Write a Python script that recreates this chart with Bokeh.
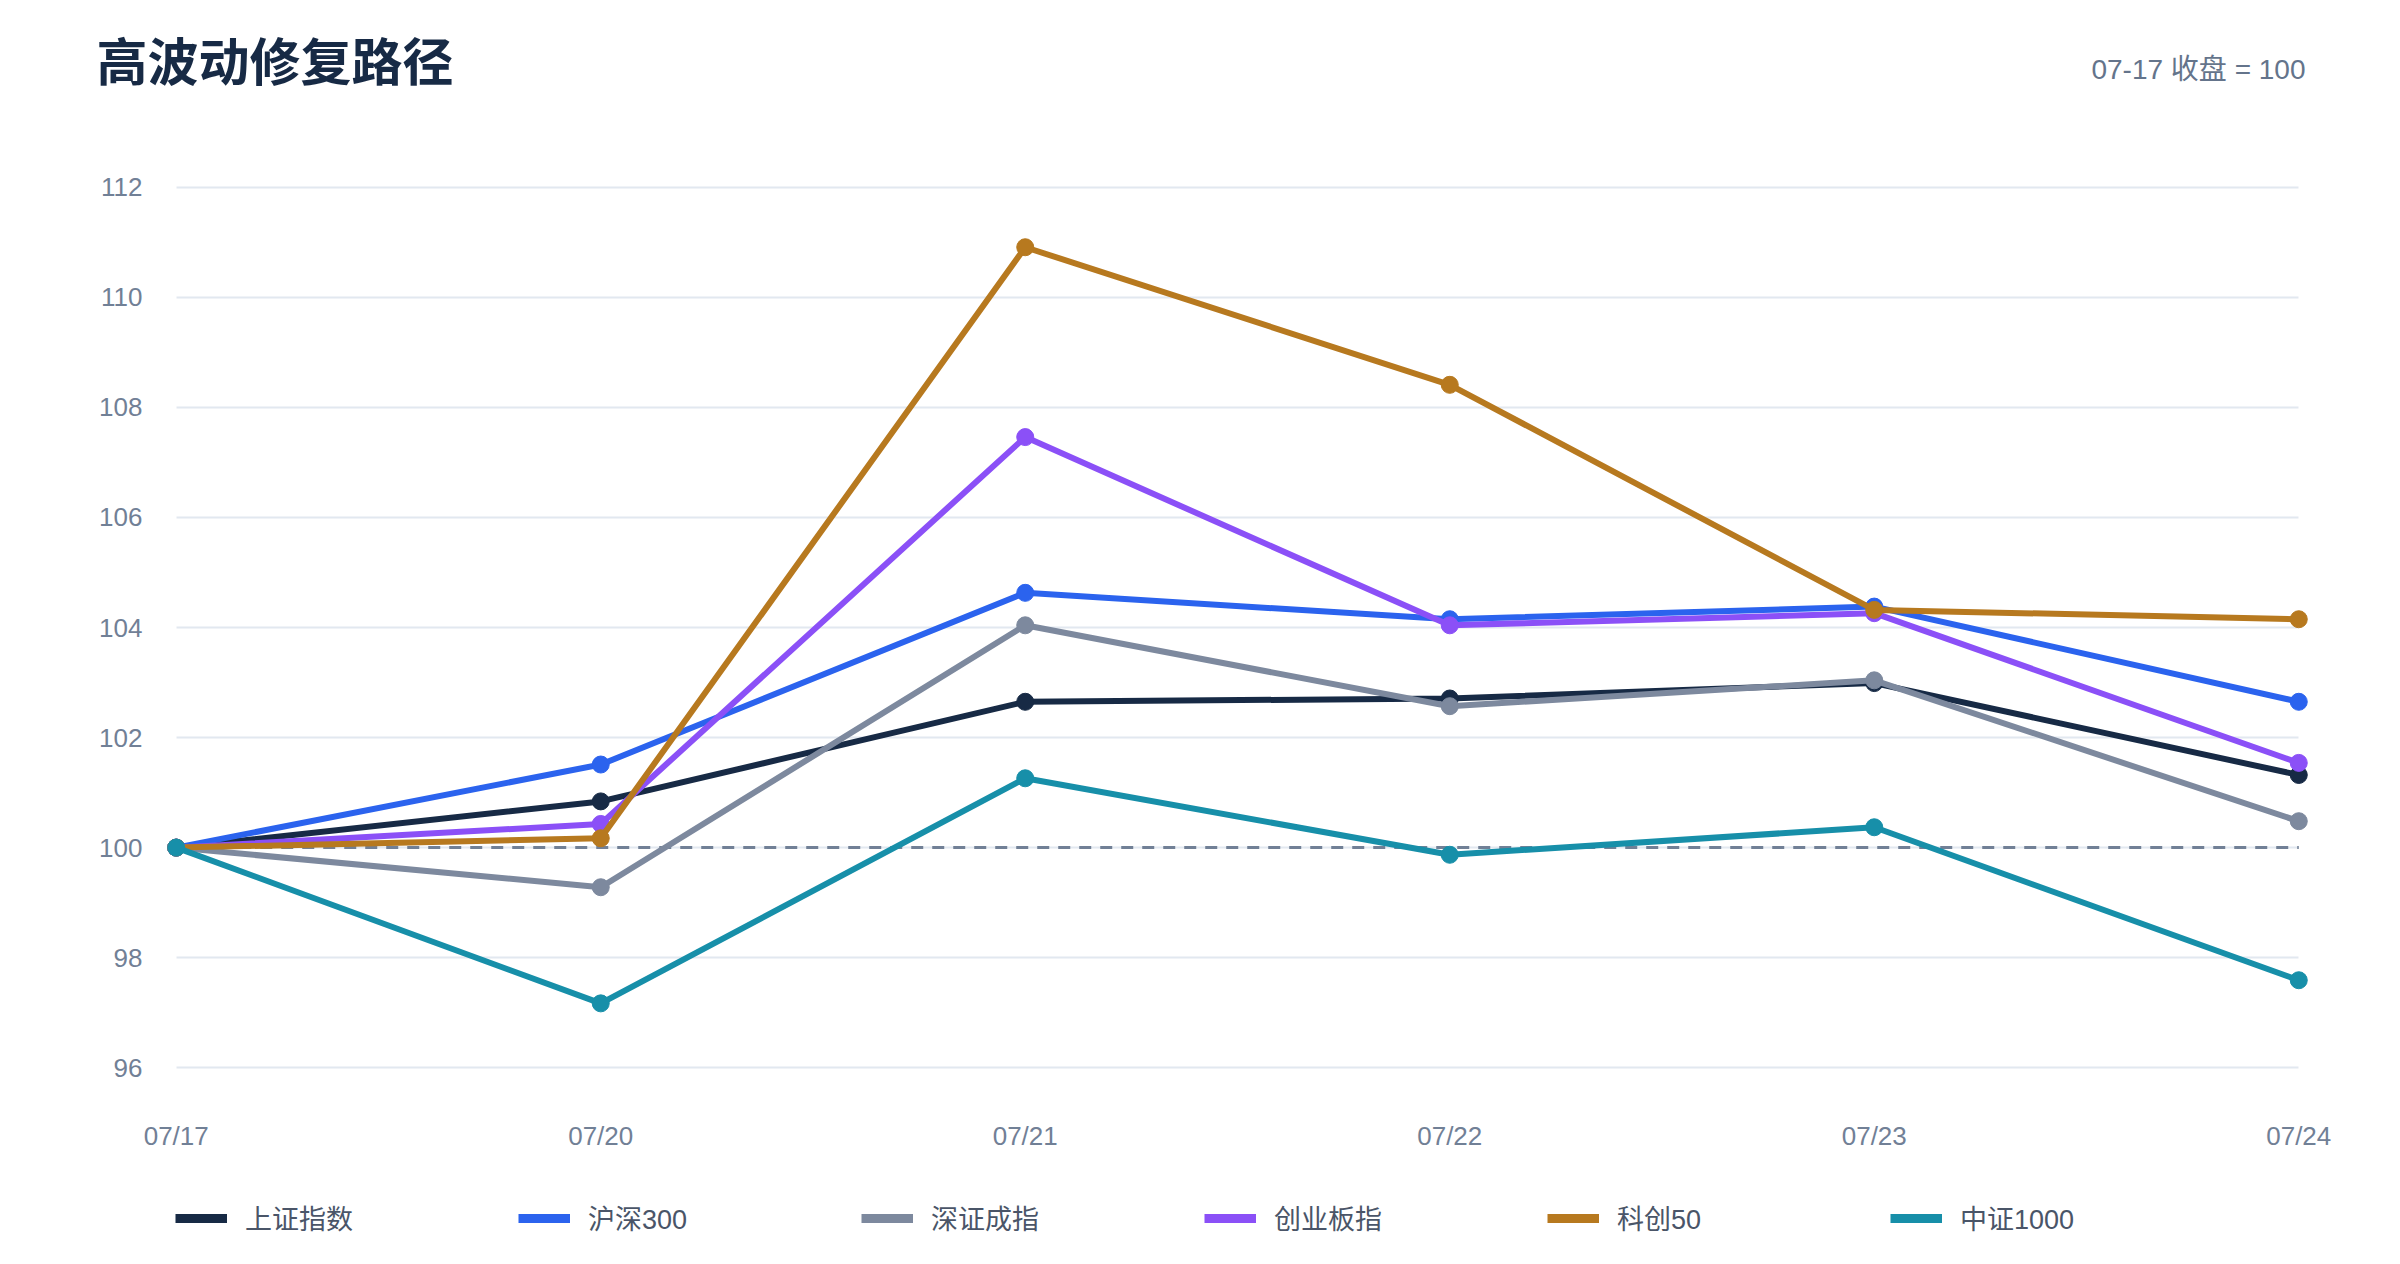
from bokeh.embed import file_html
from bokeh.layouts import column
from bokeh.models import FixedTicker, Label, Legend, LegendItem, Range1d
from bokeh.plotting import figure
from bokeh.resources import INLINE

dates = ["07/17", "07/20", "07/21", "07/22", "07/23", "07/24"]
base = 100
y_ticks = [96, 98, 100, 102, 104, 106, 108, 110, 112]

names = ["上证指数", "沪深300", "深证成指", "创业板指", "科创50", "中证1000"]
sh_comp = [100, 100.84, 102.65, 102.71, 102.99, 101.32]
hs300 = [100, 101.51, 104.63, 104.15, 104.38, 102.65]
sz_comp = [100, 99.28, 104.04, 102.57, 103.04, 100.48]
chinext = [100, 100.43, 107.46, 104.04, 104.26, 101.54]
star50 = [100, 100.17, 110.91, 108.41, 104.32, 104.15]
csi1000 = [100, 97.17, 101.26, 99.87, 100.37, 97.59]
series = [sh_comp, hs300, sz_comp, chinext, star50, csi1000]

colors = ["#172a45", "#2b63ee", "#7d899e", "#8b50f7", "#b7791f", "#178fa9"]

MIXED = "Liberation Sans, Noto Sans CJK SC"
TICK_COLOR = "#718096"
W = 2384
LEFT = 163

x = list(range(len(dates)))


def strip(h):
    f = figure(width=W, height=h, output_backend="svg", toolbar_location=None,
               x_axis_type=None, y_axis_type=None, min_border=0,
               x_range=(0, 1), y_range=(0, 1), outline_line_color=None)
    f.grid.grid_line_color = None
    return f


head = strip(110)
foot = strip(78)

# keep the strips' frames at the page edge if the layout allows it,
# otherwise they are lined up with the chart's frame
shift = LEFT
if "frame_align" in head.properties():
    head.frame_align = False
    foot.frame_align = False
    shift = 0

# header strip
head.add_layout(Label(x=96 - shift, y=52, x_units="screen", y_units="screen",
                      text="高波动修复路径", text_font="Noto Sans CJK SC",
                      text_font_size="51px", text_font_style="bold",
                      text_color="#172a45", text_baseline="middle"))
head.add_layout(Label(x=2305 - shift, y=41, x_units="screen", y_units="screen",
                      text="07-17 收盘 = 100", text_font=MIXED,
                      text_font_size="28px", text_color="#64748b",
                      text_baseline="middle", text_align="right"))

# main chart
p = figure(width=W, height=1060, output_backend="svg", toolbar_location=None,
           x_range=Range1d(-0.03, len(dates) - 1 + 0.03),
           y_range=Range1d(95.95, 112.05),
           min_border_left=LEFT, min_border_right=73,
           min_border_top=74, min_border_bottom=100,
           outline_line_color=None)

p.xgrid.grid_line_color = None
p.ygrid.grid_line_color = "#e2e8f0"
p.ygrid.grid_line_width = 2
g = p.ygrid[0]
if "cross_bounds" in g.properties():
    g.cross_bounds = (0, len(dates) - 1)

p.xaxis.ticker = FixedTicker(ticks=x)
p.xaxis.major_label_overrides = {i: d for i, d in enumerate(dates)}
p.yaxis.ticker = FixedTicker(ticks=y_ticks)
for ax in (p.xaxis, p.yaxis):
    ax.axis_line_color = None
    ax.major_tick_line_color = None
    ax.minor_tick_line_color = None
    ax.major_tick_in = 0
    ax.major_tick_out = 0
    ax.major_label_text_font = "Liberation Sans"
    ax.major_label_text_font_size = "26px"
    ax.major_label_text_color = TICK_COLOR
p.xaxis.major_label_standoff = 50
p.yaxis.major_label_standoff = 21

# baseline at 100
p.line([x[0], x[-1]], [base, base], line_color="#718096", line_width=3,
       line_dash="12 9")

for ys, c in zip(series, colors):
    p.line(x, ys, line_color=c, line_width=6, line_join="round")
    p.scatter(x, ys, size=17, fill_color=c, line_color=c)

# legend strip: the series are drawn outside its ranges, only the keys show
items = []
for name, ys, c in zip(names, series, colors):
    r = foot.line(x, ys, line_color=c, line_width=9)
    items.append(LegendItem(label=name, renderers=[r]))
foot.add_layout(Legend(items=items, orientation="horizontal",
                       location=(175 - shift, 11),
                       glyph_width=52, glyph_height=30, label_standoff=18,
                       label_width=273, spacing=0, padding=0, margin=0,
                       border_line_color=None, background_fill_alpha=0,
                       label_text_font=MIXED, label_text_font_size="27px",
                       label_text_color="#4a5568", label_height=30))

page = column(head, p, foot, spacing=0)
open("out.html", "w").write(file_html(page, INLINE))
